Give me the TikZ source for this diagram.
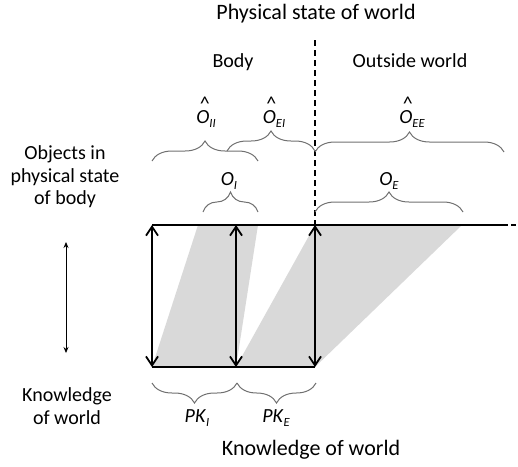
\documentclass[tikz,border=0pt]{standalone}
\usepackage{fontspec}
\setmainfont{Carlito}
\usetikzlibrary{arrows.meta,decorations.pathreplacing}
\definecolor{fangray}{HTML}{D9D9D9}
\definecolor{bracecol}{HTML}{707070}
\newcommand{\Ohat}{\leavevmode\rlap{\hspace{0.18em}\raisebox{0.62em}{\textasciicircum}}\textit{O}}
\newcommand{\subx}[1]{\raisebox{-4pt}{\fontsize{12.5}{12.5}\selectfont\itshape #1}}
\begin{document}
\begin{tikzpicture}[x=1pt,y=-1pt,
  lbl/.style={font=\fontsize{20}{22.5}\selectfont, inner sep=0pt, anchor=base},
  ttl/.style={font=\fontsize{22}{26}\selectfont, inner sep=0pt, anchor=base},
  mlbl/.style={font=\fontsize{20}{22.5}\selectfont, inner sep=0pt, align=center},
  heavy/.style={line width=1.8pt},
  vecarrow/.style={line width=1.8pt, {Straight Barb[length=9pt,width=12pt]}-{Straight Barb[length=9pt,width=12pt]}},
  smallarrow/.style={line width=0.8pt, {Stealth[length=6pt,width=5pt]}-{Stealth[length=6pt,width=5pt]}},
  brc/.style={draw=bracecol, line width=1pt, decorate, decoration={brace, amplitude=20pt}},
  brcdown/.style={draw=bracecol, line width=1pt, decorate, decoration={brace, amplitude=20pt, mirror}},
]
\useasboundingbox (0,0) rectangle (518,466);

% key points
\coordinate (TA) at (152,225);
\coordinate (TB) at (236,225);
\coordinate (TC) at (315,225);
\coordinate (TEnd) at (503,225);
\coordinate (TFree) at (518,225);
\coordinate (BA) at (152,367);
\coordinate (BB) at (236,367);
\coordinate (BC) at (315,367);
\coordinate (DTop) at (315,40);

% gray fans
\fill[fangray] (BA) -- (198,225) -- (258,225) -- (BB) -- cycle;
\fill[fangray] (BB) -- (TC) -- (462,225) -- (BC) -- cycle;

% lines
\draw[heavy] (TA) -- (TEnd);
\draw[heavy, dash pattern=on 5pt off 3pt] (TEnd) -- (TFree);
\draw[heavy] (BA) -- (BC);
\draw[heavy, dash pattern=on 6pt off 4pt] (DTop) -- (TC);
\draw[vecarrow] (BA) -- (TA);
\draw[vecarrow] (BB) -- (TB);
\draw[vecarrow] (BC) -- (TC);

% small arrow on the left
\coordinate (S1) at (66,242);
\coordinate (S2) at (66,353);
\draw[smallarrow] (S1) -- (S2);

% braces
\coordinate (bII1) at (152,161); \coordinate (bII2) at (258,161);
\coordinate (bEI1) at (227,151); \coordinate (bEI2) at (315,151);
\coordinate (bEE1) at (315,152); \coordinate (bEE2) at (504,152);
\coordinate (bI1) at (203,212);  \coordinate (bI2) at (258,212);
\coordinate (bE1) at (315,212);  \coordinate (bE2) at (463,212);
\coordinate (pI1) at (152,383);  \coordinate (pI2) at (237,383);
\coordinate (pE1) at (237,383);  \coordinate (pE2) at (316,383);
\draw[brc] (bII1) -- (bII2);
\draw[brc] (bEI1) -- (bEI2);
\draw[brc] (bEE1) -- (bEE2);
\draw[brc] (bI1) -- (bI2);
\draw[brc] (bE1) -- (bE2);
\draw[brcdown] (pI1) -- (pI2);
\draw[brcdown] (pE1) -- (pE2);

% texts
\node[ttl] (title) at (316,19) {Physical state of world};
\node[ttl] (bottom) at (311,455) {Knowledge of world};
\node[lbl] (body) at (233,67) {Body};
\node[lbl] (outside) at (410,67) {Outside world};
\node[lbl] (oII) at (206,123) {\Ohat\subx{II}};
\node[lbl] (oEI) at (274,123) {\Ohat\subx{EI}};
\node[lbl] (oEE) at (412,123) {\Ohat\subx{EE}};
\node[lbl] (oI) at (229,185) {\textit{O}\subx{I}};
\node[lbl] (oE) at (389,185) {\textit{O}\subx{E}};
\node[lbl] (pkI) at (197,422) {\textit{PK}\subx{I}};
\node[lbl] (pkE) at (276,422) {\textit{PK}\subx{E}};
\node[mlbl] (objects) at (65,177) {Objects in\\physical state\\of body};
\node[mlbl] (know) at (67,406) {Knowledge\\of world};
\end{tikzpicture}
\end{document}
